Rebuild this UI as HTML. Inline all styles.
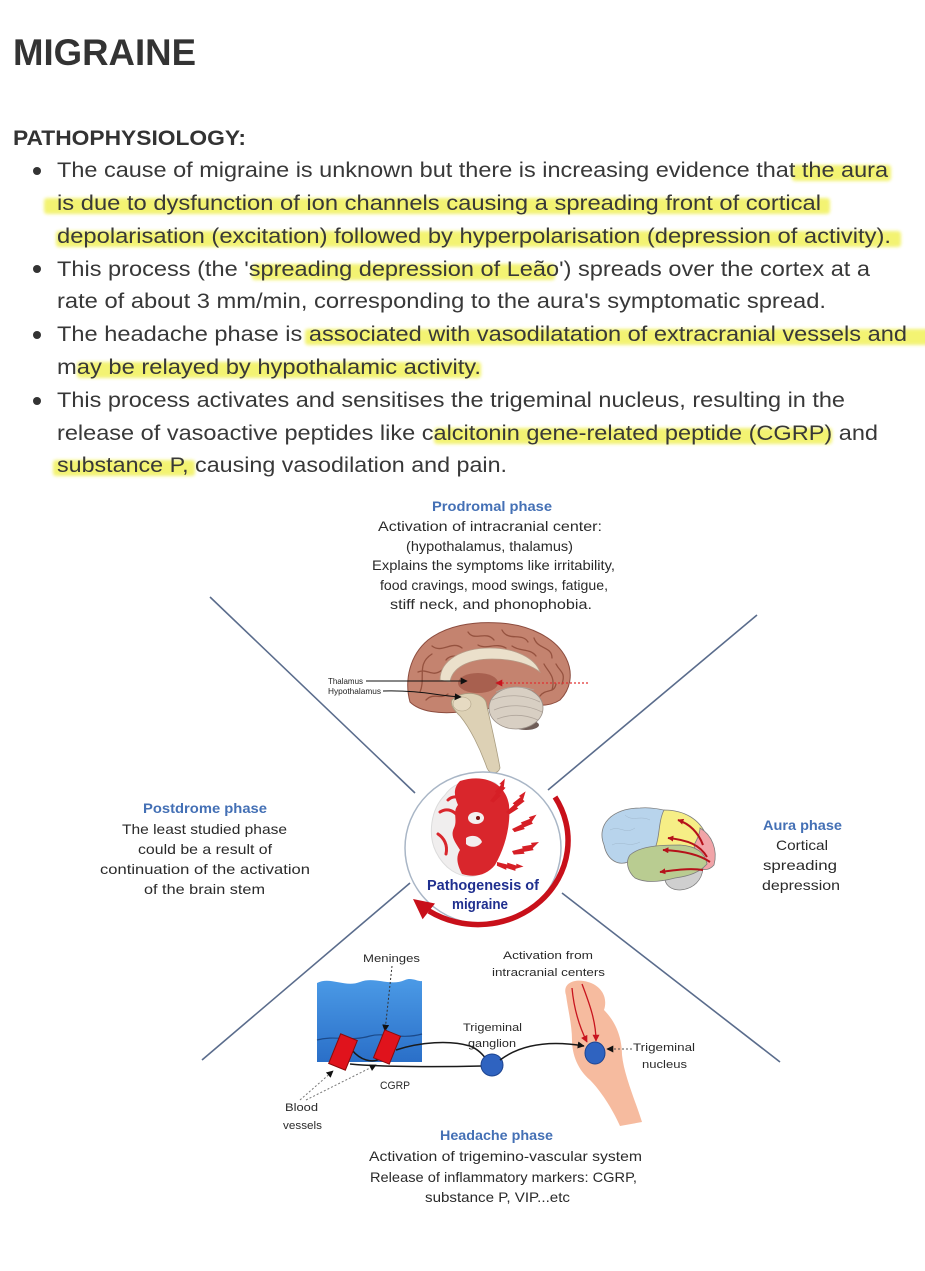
<!DOCTYPE html>
<html>
<head>
<meta charset="utf-8">
<style>
  html,body{margin:0;padding:0;background:#fff;}
  svg{display:block;}
  text{font-family:"Liberation Sans", Arial, sans-serif;}
</style>
</head>
<body>
<svg width="925" height="1271" viewBox="0 0 925 1271" xmlns="http://www.w3.org/2000/svg">
  <defs>
    <filter id="hb" x="-5%" y="-50%" width="110%" height="200%"><feGaussianBlur stdDeviation="1.6"/></filter>
    <marker id="ab" viewBox="0 0 10 10" refX="9" refY="5" markerWidth="7" markerHeight="7" orient="auto" markerUnits="userSpaceOnUse"><path d="M0,0 L10,5 L0,10z" fill="#111"/></marker>
    <marker id="ar" viewBox="0 0 10 10" refX="9" refY="5" markerWidth="7" markerHeight="7" orient="auto" markerUnits="userSpaceOnUse"><path d="M0,0 L10,5 L0,10z" fill="#c8141e"/></marker>
    <marker id="ar2" viewBox="0 0 10 10" refX="9" refY="5" markerWidth="6" markerHeight="6" orient="auto" markerUnits="userSpaceOnUse"><path d="M0,0 L10,5 L0,10z" fill="#b5121a"/></marker>
    <linearGradient id="mg" x1="0" y1="0" x2="0" y2="1">
      <stop offset="0" stop-color="#4b9ae6"/>
      <stop offset="1" stop-color="#2a6fc8"/>
    </linearGradient>
  </defs>

  <rect width="925" height="1271" fill="#fff"/>

  <!-- Title -->
  <text x="13" y="65" font-size="37" font-weight="bold" fill="#333" textLength="183" lengthAdjust="spacingAndGlyphs">MIGRAINE</text>
  <text x="13" y="145" font-size="21" font-weight="bold" fill="#333" textLength="233" lengthAdjust="spacingAndGlyphs">PATHOPHYSIOLOGY:</text>

  <!-- Highlights -->
  <g fill="#f1f15a" opacity="0.85" filter="url(#hb)">
    <rect x="792" y="165" width="99" height="16" rx="3"/>
    <rect x="44" y="198" width="786" height="16" rx="3"/>
    <rect x="56" y="231" width="845" height="16" rx="3"/>
    <rect x="252" y="264" width="303" height="16" rx="3"/>
    <rect x="305" y="329" width="625" height="16" rx="3"/>
    <rect x="77" y="362" width="404" height="16" rx="3"/>
    <rect x="434" y="428" width="398" height="16" rx="3"/>
    <rect x="53" y="460" width="142" height="16" rx="3"/>
  </g>

  <!-- Bullets -->
  <g fill="#333">
    <circle cx="37" cy="171" r="4"/>
    <circle cx="37" cy="269" r="4"/>
    <circle cx="37" cy="335" r="4"/>
    <circle cx="37" cy="401" r="4"/>
  </g>

  <!-- Body text -->
  <g font-size="21" fill="#383838">
    <text x="57" y="177" textLength="831" lengthAdjust="spacingAndGlyphs">The cause of migraine is unknown but there is increasing evidence that the aura</text>
    <text x="57" y="210" textLength="764" lengthAdjust="spacingAndGlyphs">is due to dysfunction of ion channels causing a spreading front of cortical</text>
    <text x="57" y="243" textLength="834" lengthAdjust="spacingAndGlyphs">depolarisation (excitation) followed by hyperpolarisation (depression of activity).</text>
    <text x="57" y="276" textLength="813" lengthAdjust="spacingAndGlyphs">This process (the 'spreading depression of Leão') spreads over the cortex at a</text>
    <text x="57" y="308" textLength="769" lengthAdjust="spacingAndGlyphs">rate of about 3 mm/min, corresponding to the aura's symptomatic spread.</text>
    <text x="57" y="341" textLength="850" lengthAdjust="spacingAndGlyphs">The headache phase is associated with vasodilatation of extracranial vessels and</text>
    <text x="57" y="374" textLength="424" lengthAdjust="spacingAndGlyphs">may be relayed by hypothalamic activity.</text>
    <text x="57" y="407" textLength="788" lengthAdjust="spacingAndGlyphs">This process activates and sensitises the trigeminal nucleus, resulting in the</text>
    <text x="57" y="440" textLength="821" lengthAdjust="spacingAndGlyphs">release of vasoactive peptides like calcitonin gene-related peptide (CGRP) and</text>
    <text x="57" y="472" textLength="450" lengthAdjust="spacingAndGlyphs">substance P, causing vasodilation and pain.</text>
  </g>

  <!-- X lines -->
  <g stroke="#5a6c8c" stroke-width="1.6" fill="none">
    <line x1="210" y1="597" x2="415" y2="793"/>
    <line x1="757" y1="615" x2="548" y2="790"/>
    <line x1="202" y1="1060" x2="410" y2="883"/>
    <line x1="562" y1="893" x2="780" y2="1062"/>
  </g>

  <!-- Prodromal text -->
  <text x="432" y="511" font-size="14" font-weight="bold" fill="#4470b5" textLength="120" lengthAdjust="spacingAndGlyphs">Prodromal phase</text>
  <g font-size="14" fill="#2a2a2a">
    <text x="378" y="531" textLength="224" lengthAdjust="spacingAndGlyphs">Activation of intracranial center:</text>
    <text x="406" y="551" textLength="167" lengthAdjust="spacingAndGlyphs">(hypothalamus, thalamus)</text>
    <text x="372" y="570" textLength="243" lengthAdjust="spacingAndGlyphs">Explains the symptoms like irritability,</text>
    <text x="380" y="590" textLength="228" lengthAdjust="spacingAndGlyphs">food cravings, mood swings, fatigue,</text>
    <text x="390" y="609" textLength="202" lengthAdjust="spacingAndGlyphs">stiff neck, and phonophobia.</text>
  </g>

  <!-- Sagittal brain -->
  <g>
    <path d="M410,702 C404,680 410,655 428,640 C446,626 472,621 500,623 C530,625 556,638 566,658 C574,674 570,690 560,700 C548,708 530,706 515,700 C500,706 480,712 460,712 C440,714 420,712 410,702Z" fill="#c4836f" stroke="#8c4c3e" stroke-width="1"/>
    <g stroke="#95523f" stroke-width="1.3" fill="none" stroke-linecap="round">
      <path d="M420,692 C426,678 416,664 432,654"/>
      <path d="M432,646 C442,654 452,640 462,648"/>
      <path d="M468,632 C474,642 486,630 494,640"/>
      <path d="M502,630 C508,642 522,632 528,642"/>
      <path d="M534,638 C538,650 552,646 552,658"/>
      <path d="M556,664 C560,672 566,672 562,684"/>
      <path d="M418,672 C428,668 432,678 442,670"/>
      <path d="M446,660 C452,652 462,660 470,652"/>
      <path d="M478,645 C486,650 496,642 506,648"/>
      <path d="M512,646 C520,652 530,648 536,656"/>
      <path d="M544,664 C548,672 556,676 552,690"/>
      <path d="M426,700 C434,692 440,700 448,694"/>
      <path d="M540,696 C546,688 554,694 556,684"/>
    </g>
    <path d="M440,680 C440,660 462,648 490,648 C515,648 535,658 540,672 C532,666 518,659 492,659 C468,659 452,668 450,682Z" fill="#ebe0cb" stroke="#b79b88" stroke-width="0.8"/>
    <ellipse cx="478" cy="683" rx="20" ry="10" fill="#a8604f"/>
    <path d="M452,700 C462,690 482,692 486,702 C490,720 496,745 500,768 C498,774 490,775 487,768 C480,748 470,728 460,716 C454,710 450,705 452,700Z" fill="#ddd1b5" stroke="#a89c80" stroke-width="0.8"/>
    <ellipse cx="462" cy="704" rx="9" ry="7" fill="#e6dac2" stroke="#b0a388" stroke-width="0.6"/>
    <ellipse cx="526" cy="725" rx="13" ry="5" fill="#6f5d57"/>
    <ellipse cx="516" cy="708" rx="27" ry="21" fill="#d8cfc3" stroke="#9a9088" stroke-width="0.8"/>
    <g stroke="#b0a69c" stroke-width="0.8" fill="none">
      <path d="M492,700 C506,694 524,694 540,702"/>
      <path d="M494,710 C508,704 526,704 542,712"/>
      <path d="M497,719 C510,714 524,714 538,720"/>
      <path d="M496,692 C508,686 522,686 534,690"/>
    </g>
    <!-- labels -->
    <text x="328" y="684" font-size="8.5" fill="#222" textLength="35" lengthAdjust="spacingAndGlyphs">Thalamus</text>
    <text x="328" y="694" font-size="8.5" fill="#222" textLength="53" lengthAdjust="spacingAndGlyphs">Hypothalamus</text>
    <line x1="366" y1="681" x2="467" y2="681" stroke="#111" stroke-width="1" marker-end="url(#ab)"/>
    <path d="M383,691 C420,690 440,696 461,697" stroke="#111" stroke-width="1" fill="none" marker-end="url(#ab)"/>
    <line x1="588" y1="683" x2="496" y2="683" stroke="#e03030" stroke-width="1.3" stroke-dasharray="2,2" marker-end="url(#ar)"/>
  </g>

  <!-- Postdrome -->
  <text x="143" y="813" font-size="14" font-weight="bold" fill="#4470b5" textLength="124" lengthAdjust="spacingAndGlyphs">Postdrome phase</text>
  <g font-size="14" fill="#2a2a2a">
    <text x="122" y="834" textLength="165" lengthAdjust="spacingAndGlyphs">The least studied phase</text>
    <text x="138" y="854" textLength="134" lengthAdjust="spacingAndGlyphs">could be a result of</text>
    <text x="100" y="874" textLength="210" lengthAdjust="spacingAndGlyphs">continuation of the activation</text>
    <text x="144" y="894" textLength="121" lengthAdjust="spacingAndGlyphs">of the brain stem</text>
  </g>

  <!-- Aura -->
  <text x="763" y="830" font-size="14" font-weight="bold" fill="#4470b5" textLength="79" lengthAdjust="spacingAndGlyphs">Aura phase</text>
  <g font-size="14" fill="#2a2a2a">
    <text x="776" y="850" textLength="52" lengthAdjust="spacingAndGlyphs">Cortical</text>
    <text x="763" y="870" textLength="74" lengthAdjust="spacingAndGlyphs">spreading</text>
    <text x="762" y="890" textLength="78" lengthAdjust="spacingAndGlyphs">depression</text>
  </g>

  <!-- Aura brain -->
  <g stroke="#7d7d7d" stroke-width="0.8">
    <path d="M604,845 C596,825 612,808 640,808 C650,807 660,809 668,811 C660,825 662,840 655,848 C645,852 635,855 628,862 C618,866 607,860 604,845Z" fill="#b8d4ec"/>
    <path d="M664,810 C685,810 700,820 706,835 C704,840 700,845 695,848 C680,845 665,846 655,848 C660,838 658,822 664,810Z" fill="#f6ee86"/>
    <path d="M700,828 C712,835 718,850 714,865 C708,872 700,870 695,866 C695,858 696,850 694,845 C698,838 700,833 700,828Z" fill="#f1a4a8"/>
    <path d="M665,876 C678,872 695,870 703,868 C702,880 694,889 680,890 C670,890 664,884 665,876Z" fill="#cfcfcf"/>
    <path d="M630,855 C640,846 660,845 680,845 C695,846 705,852 707,864 C700,872 690,876 675,878 C660,882 645,883 635,878 C628,872 625,862 630,855Z" fill="#b9cc91"/>
  </g>
  <g stroke="#9ab0c4" stroke-width="0.5" fill="none" opacity="0.8">
    <path d="M610,830 C620,825 625,835 635,828"/>
    <path d="M612,845 C622,840 628,848 640,842"/>
    <path d="M625,815 C632,822 640,815 650,820"/>
  </g>
  <g stroke="#b5121a" stroke-width="2" fill="none" marker-end="url(#ar2)">
    <path d="M703,845 C698,832 690,824 678,820"/>
    <path d="M707,857 C700,845 688,840 668,838"/>
    <path d="M710,862 C700,855 685,851 663,850"/>
    <path d="M703,870 C690,868 675,870 660,872"/>
  </g>

  <!-- Central circle -->
  <ellipse cx="483" cy="848" rx="78" ry="76" fill="#fff" stroke="#a9b6c6" stroke-width="1.5"/>
  <!-- Face -->
  <path d="M445,795 C455,780 480,776 495,783 C508,792 510,815 506,835 C502,855 492,872 474,876 C458,878 444,868 436,852 C428,836 430,810 445,795Z" fill="#f0eeee" stroke="#dcdcdc" stroke-width="1"/>
  <path d="M460,781 C485,773 506,784 509,805 C511,825 505,848 495,865 C487,875 475,878 462,874 C458,866 455,858 460,850 C455,842 450,836 454,828 C458,820 452,812 458,805 C454,796 453,788 460,781Z" fill="#d9262c"/>
  <ellipse cx="476" cy="818" rx="8" ry="6" fill="#f3eeee"/>
  <circle cx="478" cy="818" r="2" fill="#7a1010"/>
  <path d="M466,838 C472,834 480,836 482,842 C478,848 470,848 466,844Z" fill="#f3eeee"/>
  <g stroke="#d9262c" stroke-width="3" fill="none" stroke-linecap="round">
    <path d="M440,812 C446,808 452,810 456,814"/>
    <path d="M438,834 C444,838 448,845 446,854"/>
    <path d="M448,800 C452,796 458,796 460,799"/>
  </g>
  <!-- bolts -->
  <g fill="#d61f26">
    <polygon points="0,0 12,-3 11,-5 22,-7 21,-9 30,-10 23,-3 24,-1 13,1 14,3 2,4" transform="translate(490,801) rotate(-38) scale(0.85)"/>
    <polygon points="0,0 12,-3 11,-5 22,-7 21,-9 30,-10 23,-3 24,-1 13,1 14,3 2,4" transform="translate(506,812) rotate(-28) scale(0.9)"/>
    <polygon points="0,0 12,-3 11,-5 22,-7 21,-9 30,-10 23,-3 24,-1 13,1 14,3 2,4" transform="translate(512,829) rotate(-12) scale(0.9)"/>
    <polygon points="0,0 12,-3 11,-5 22,-7 21,-9 30,-10 23,-3 24,-1 13,1 14,3 2,4" transform="translate(512,851) rotate(0) scale(0.9)"/>
    <polygon points="0,0 12,-3 11,-5 22,-7 21,-9 30,-10 23,-3 24,-1 13,1 14,3 2,4" transform="translate(497,862) rotate(28) scale(0.85)"/>
  </g>
  <!-- red cycle arrow -->
  <path d="M555,797 A90,84 0 0 1 429,911" fill="none" stroke="#c8101a" stroke-width="5.5"/>
  <polygon points="413,899 435,903.5 422.6,919.3" fill="#c8101a"/>

  <text x="427" y="890" font-size="15" font-weight="bold" fill="#1f2f8f" textLength="112" lengthAdjust="spacingAndGlyphs">Pathogenesis of</text>
  <text x="452" y="909" font-size="15" font-weight="bold" fill="#1f2f8f" textLength="56" lengthAdjust="spacingAndGlyphs">migraine</text>

  <!-- Headache diagram -->
  <g font-size="11" fill="#2a2a2a">
    <text x="363" y="962" textLength="57" lengthAdjust="spacingAndGlyphs">Meninges</text>
    <text x="503" y="959" textLength="90" lengthAdjust="spacingAndGlyphs">Activation from</text>
    <text x="492" y="976" textLength="113" lengthAdjust="spacingAndGlyphs">intracranial centers</text>
    <text x="463" y="1031" textLength="59" lengthAdjust="spacingAndGlyphs">Trigeminal</text>
    <text x="468" y="1047" textLength="48" lengthAdjust="spacingAndGlyphs">ganglion</text>
    <text x="633" y="1051" textLength="62" lengthAdjust="spacingAndGlyphs">Trigeminal</text>
    <text x="642" y="1068" textLength="45" lengthAdjust="spacingAndGlyphs">nucleus</text>
    <text x="380" y="1089" textLength="30" lengthAdjust="spacingAndGlyphs">CGRP</text>
    <text x="285" y="1111" textLength="33" lengthAdjust="spacingAndGlyphs">Blood</text>
    <text x="283" y="1129" textLength="39" lengthAdjust="spacingAndGlyphs">vessels</text>
  </g>

  <!-- Meninges block -->
  <path d="M317,983 C330,976 345,988 360,982 C375,976 390,987 405,980 C412,977 418,982 422,981 L422,1062 L317,1062Z" fill="url(#mg)"/>
  <path d="M317,1040 C335,1035 350,1042 370,1036 C385,1032 400,1040 422,1034" stroke="#1b4a8a" stroke-width="1.2" fill="none"/>
  <!-- Meninges dotted pointer -->
  <line x1="392" y1="966" x2="385" y2="1031" stroke="#333" stroke-width="1" stroke-dasharray="2,2" marker-end="url(#ab)"/>

  <!-- nerve fibres -->
  <g stroke="#1a1a1a" stroke-width="1.5" fill="none">
    <path d="M396,1050 C420,1042 450,1040 470,1046 C480,1050 485,1057 488,1062"/>
    <path d="M350,1064 C380,1067 440,1067 482,1066"/>
    <path d="M352,1050 C360,1060 372,1064 382,1058"/>
  </g>
  <!-- blood vessels -->
  <rect x="334" y="1036" width="18" height="32" fill="#e0131c" stroke="#8a0a0a" stroke-width="1" transform="rotate(22 343 1052)"/>
  <rect x="378.5" y="1032" width="17" height="30" fill="#e0131c" stroke="#8a0a0a" stroke-width="1" transform="rotate(22 387 1047)"/>

  <!-- ganglion -->
  <circle cx="492" cy="1065" r="11" fill="#2f63c0" stroke="#1d4490" stroke-width="1"/>

  <!-- brainstem (peach) -->
  <path d="M566,995 C562,983 575,978 588,982 C602,986 608,998 604,1010 C614,1020 622,1035 622,1055 C624,1075 635,1100 642,1122 L620,1126 C612,1108 600,1090 590,1080 C578,1070 572,1055 572,1040 C572,1025 568,1010 566,995Z" fill="#f6bb9f"/>
  <g stroke="#c8141e" stroke-width="1.3" fill="none" marker-end="url(#ar)">
    <path d="M572,988 C574,1010 580,1028 587,1042"/>
    <path d="M582,984 C590,1005 596,1022 596,1041"/>
  </g>
  <!-- ganglion -> nucleus -->
  <path d="M500,1060 C520,1045 548,1040 584,1046" stroke="#1a1a1a" stroke-width="1.5" fill="none" marker-end="url(#ab)"/>
  <ellipse cx="595" cy="1053" rx="10" ry="11" fill="#2f63c0" stroke="#1d4490" stroke-width="1"/>
  <line x1="632" y1="1049" x2="607" y2="1049" stroke="#555" stroke-width="1" stroke-dasharray="2,2" marker-end="url(#ab)"/>

  <!-- blood vessel pointers -->
  <g stroke="#777" stroke-width="1" stroke-dasharray="2,2" fill="none">
    <line x1="300" y1="1100" x2="333" y2="1071" marker-end="url(#ab)"/>
    <line x1="306" y1="1100" x2="376" y2="1065" marker-end="url(#ab)"/>
  </g>

  <!-- Headache text -->
  <text x="440" y="1140" font-size="14" font-weight="bold" fill="#4470b5" textLength="113" lengthAdjust="spacingAndGlyphs">Headache phase</text>
  <g font-size="14" fill="#2a2a2a">
    <text x="369" y="1161" textLength="273" lengthAdjust="spacingAndGlyphs">Activation of trigemino-vascular system</text>
    <text x="370" y="1182" textLength="267" lengthAdjust="spacingAndGlyphs">Release of inflammatory markers: CGRP,</text>
    <text x="425" y="1202" textLength="145" lengthAdjust="spacingAndGlyphs">substance P, VIP...etc</text>
  </g>
</svg>
</body>
</html>
